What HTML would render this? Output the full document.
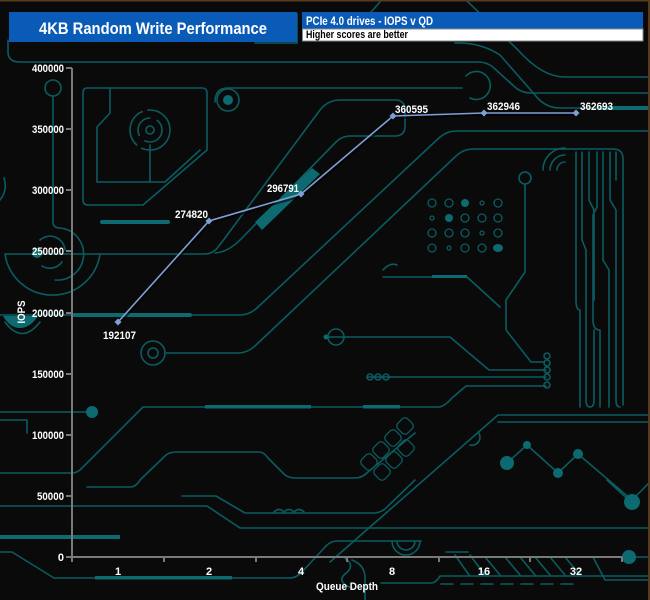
<!DOCTYPE html>
<html><head><meta charset="utf-8"><style>
html,body{margin:0;padding:0;background:#0a0a0a;}
svg{display:block;}
text{font-family:"Liberation Sans",Arial,sans-serif;font-weight:bold;}
</style></head><body>
<svg width="650" height="600" viewBox="0 0 650 600" xmlns="http://www.w3.org/2000/svg">
<rect width="650" height="600" fill="#0a0a0a"/>
<!-- circuit traces -->
<g fill="none" stroke="#0a5c61" stroke-width="1.6" stroke-linecap="round" stroke-linejoin="round">
<path d="M8,40 V52 Q8,62 20,62 H478 Q488,62 495,69 L516,88 Q522,93 532,93 H650"/>
<path d="M466,0 L518,50 Q542,77 565,77 H650"/>
<path d="M380,2 L362,22"/>
<path d="M455,43 Q480,42 500,55 L535,95 Q545,108 560,108 H650"/>
<path d="M255,43 H297 V14"/>
<path d="M215,102 Q215,88 228,88 H462"/>
<path d="M470,98 A14,14 0 1 0 466,76"/>
<circle cx="228" cy="100" r="11"/>
<!-- top-left polygon -->
<path d="M87,88 H202 Q207,88 207,93 V150 L143,205 H88 Q83,205 83,200 V93 Q83,88 87,88 Z"/>
<path d="M110,88 V113 L97,127 V182 H165 L200,150"/>
<circle cx="150" cy="130" r="20" stroke-dasharray="40 6 40 6"/>
<circle cx="150" cy="130" r="12" stroke-dasharray="24 8"/>
<circle cx="150" cy="130" r="4"/>
<path d="M150,145 V182"/>
<circle cx="53" cy="88" r="8"/>
<path d="M53,96 V222 Q53,228 60,228 A26,26 0 0 1 55,280"/>
<path d="M40,240 A15,15 0 0 1 65,250" />
<path d="M62,262 A15,15 0 0 1 42,266" />
<path d="M5,254 H100 A48,48 0 0 1 5,254"/>
<path d="M100,254 H205 Q213,254 219,246 L320,110 Q328,100 340,100 H395 Q405,100 405,110 V126 Q405,136 395,136 H350 Q342,136 336,142 L240,240 Q228,252 215,253"/>
<path d="M0,315 H240 Q250,315 258,307 L440,137 Q447,131 457,131 H650"/>
<path d="M165,353 H238 Q248,353 256,345 L455,157 Q463,149 473,149 H613 Q623,149 623,159 V405"/>
<path d="M5,322 Q22,345 40,322"/>
<path d="M0,200 Q8,190 4,178"/>
<circle cx="153" cy="353" r="12"/>
<circle cx="153" cy="353" r="5"/>
<!-- middle right -->
<path d="M326,337 H450 L489,370 H546"/>
<circle cx="336" cy="337" r="8"/>
<path d="M367,377 H546"/>
<circle cx="370" cy="377" r="3"/><circle cx="378" cy="377" r="3"/><circle cx="386" cy="377" r="3"/>
<circle cx="547" cy="356" r="3"/><circle cx="547" cy="363" r="3"/><circle cx="547" cy="370" r="3"/><circle cx="547" cy="377" r="3"/><circle cx="547" cy="385" r="3"/>
<circle cx="525" cy="178" r="6"/>
<path d="M525,184 V272 L506,300 V330 L531,362 H544"/>
<path d="M383,270 Q390,262 397,265 M383,277 H467 L500,307"/>
<path d="M557,170 A8,8 0 0 1 565,162 M550,170 A15,15 0 0 1 565,155 M543,170 A22,22 0 0 1 565,148"/>
<path d="M576,152 V300 Q576,310 580,310 V407"/>
<path d="M582,152 V240 L586,250 V400 Q586,407 590,407 Q594,407 594,400 V330"/>
<path d="M589,152 V200 L594,210 V300"/>
<path d="M597,152 V207 L593,215 V320 Q593,330 600,330 V407"/>
<path d="M603,152 V260 L609,270 V407"/>
<path d="M610,152 V200 L616,210 V400 Q616,407 620,407"/>
<path d="M616,152 V180"/>
<!-- lower -->
<path d="M143,407 H440 Q446,405 452,398 L466,386 H546"/>
<path d="M143,407 L80,470 Q76,473 72,473 H0"/>
<path d="M0,412 H92"/>
<path d="M0,420 H27 V433"/>
<path d="M87,487 H130 Q136,487 140,480 L166,455 Q170,452 176,452 H259 Q264,452 268,458 L285,475 Q289,478 296,478 H355 Q362,478 368,472 L415,433"/>
<path d="M498,415 H650 M498,422 H650 M498,415 L330,562"/>
<path d="M470,445 A8,8 0 0 0 478,432"/>
<path d="M507,463 L527,445 L558,473 L578,454 L632,500 L650,482"/>
<path d="M182,496 H216 L245,513 H373 Q382,513 388,506 L415,480"/>
<path d="M274,512 q5,-5 10,0 q5,-5 10,0 q5,-5 10,0"/>
<path d="M0,506 H207 L240,528 H650"/>
<path d="M0,552 H12 L54,578 H290 Q296,578 302,572 L326,546 Q331,541 337,541 H421"/>
<path d="M392,541 A14,14 0 0 0 420,541 M397,541 A9,9 0 0 0 415,541"/>
<path d="M345,558 Q356,566 345,574 Q336,582 352,588 M352,560 Q365,565 365,578 V600"/>
<path d="M446,552 H468 M455,555 L469,575 M470,555 L485,575 M485,557 L500,575 M505,557 L520,575 M520,557 L535,575 M535,557 L550,575 M550,557 L565,575 M565,557 L580,575"/>
<path d="M381,583 H431 Q436,583 440,576 H650"/>
<path d="M441,584 H580" stroke-dasharray="12 8"/>
<path d="M593,557 L605,580 H650"/>
<path d="M607,480 L632,503"/>
<path d="M629,557 H650"/>
</g>
<g fill="#0c6a70" stroke="none">
<rect x="100" y="220" width="70" height="4" rx="2"/>
<rect x="72" y="313" width="120" height="4" rx="2"/>
<rect x="205" y="405" width="106" height="3.5"/>
<rect x="363" y="405" width="37" height="3.5"/>
<rect x="432" y="275" width="35" height="3"/>
<rect x="600" y="106" width="50" height="4"/>
<rect x="0" y="535" width="120" height="4"/>
<rect x="95" y="576" width="137" height="3.5"/>
<path d="M255,222 L312,168 L320,174 L262,230 Z"/>
<circle cx="92" cy="412" r="6"/>
<circle cx="37" cy="253" r="5"/>
<circle cx="228" cy="100" r="5"/>
<path d="M3,316 H38 Q30,328 20,328 Q10,328 3,316 Z"/>
<circle cx="507" cy="463" r="7"/>
<circle cx="527" cy="445" r="4"/>
<circle cx="558" cy="473" r="5"/>
<circle cx="578" cy="454" r="5"/>
<circle cx="632" cy="502" r="8"/>
<circle cx="629" cy="557" r="7"/>
<circle cx="465" cy="203" r="4"/>
<circle cx="449" cy="218" r="4"/>
<ellipse cx="498" cy="248" rx="5" ry="4"/>
<circle cx="326" cy="337" r="2.5"/>
</g>
<g fill="none" stroke="#0a5c61" stroke-width="1.3">
<circle cx="432" cy="203" r="4"/><circle cx="449" cy="203" r="4"/><circle cx="482" cy="203" r="2"/><circle cx="498" cy="203" r="4"/>
<circle cx="432" cy="218" r="2"/><circle cx="465" cy="218" r="4"/><circle cx="482" cy="218" r="4"/><circle cx="498" cy="218" r="4"/>
<circle cx="432" cy="233" r="4"/><circle cx="449" cy="233" r="4"/><circle cx="465" cy="233" r="4"/><circle cx="482" cy="233" r="2"/><circle cx="498" cy="233" r="4"/>
<circle cx="432" cy="248" r="4"/><circle cx="449" cy="248" r="2"/><circle cx="465" cy="248" r="4"/><circle cx="482" cy="248" r="4"/>
<rect x="362" y="455" width="14" height="14" rx="4" transform="rotate(45 369 462)"/>
<rect x="374" y="443" width="14" height="14" rx="4" transform="rotate(45 381 450)"/>
<rect x="386" y="431" width="14" height="14" rx="4" transform="rotate(45 393 438)"/>
<rect x="398" y="419" width="14" height="14" rx="4" transform="rotate(45 405 426)"/>
<rect x="375" y="465" width="14" height="14" rx="4" transform="rotate(45 382 472)"/>
<rect x="387" y="453" width="14" height="14" rx="4" transform="rotate(45 394 460)"/>
<rect x="399" y="441" width="14" height="14" rx="4" transform="rotate(45 406 448)"/>
</g>
<!-- frame -->
<rect x="0" y="0" width="650" height="1.5" fill="#5a3a1c"/>
<rect x="648" y="0" width="2" height="600" fill="#5a3a1c"/>
<!-- title -->
<rect x="9" y="12" width="288" height="30" fill="#0a5bb8"/>
<text x="153" y="34" fill="#fff" font-size="17" text-anchor="middle" textLength="228" lengthAdjust="spacingAndGlyphs">4KB Random Write Performance</text>
<rect x="302" y="12" width="341" height="17" fill="#0a5bb8"/>
<rect x="302.5" y="29" width="340.5" height="12" fill="#fff" stroke="#888" stroke-width="1"/>
<text x="306" y="25" fill="#fff" font-size="11.5" textLength="127" lengthAdjust="spacingAndGlyphs">PCIe 4.0 drives - IOPS v QD</text>
<text x="306" y="38" fill="#000" font-size="11" textLength="102" lengthAdjust="spacingAndGlyphs">Higher scores are better</text>
<!-- axes -->
<g stroke="#7a7a7a" stroke-width="2" fill="none">
<path d="M72,68 V562"/>
<path d="M66,557 H622"/>
<path d="M66,68 H72 M66,129 H72 M66,190 H72 M66,251 H72 M66,313 H72 M66,374 H72 M66,435 H72 M66,496 H72"/>
<path d="M164,557 V562 M256,557 V562 M347,557 V562 M439,557 V562 M530,557 V562 M622,557 V562"/>
</g>
<g fill="#fff" font-size="11" text-anchor="end">
<text x="64" y="72" textLength="32" lengthAdjust="spacingAndGlyphs">400000</text>
<text x="64" y="133" textLength="32" lengthAdjust="spacingAndGlyphs">350000</text>
<text x="64" y="194" textLength="32" lengthAdjust="spacingAndGlyphs">300000</text>
<text x="64" y="255" textLength="32" lengthAdjust="spacingAndGlyphs">250000</text>
<text x="64" y="317" textLength="32" lengthAdjust="spacingAndGlyphs">200000</text>
<text x="64" y="378" textLength="32" lengthAdjust="spacingAndGlyphs">150000</text>
<text x="64" y="439" textLength="32" lengthAdjust="spacingAndGlyphs">100000</text>
<text x="64" y="500" textLength="27" lengthAdjust="spacingAndGlyphs">50000</text>
<text x="64" y="561">0</text>
</g>
<g fill="#fff" font-size="11" text-anchor="middle">
<text x="118" y="575">1</text>
<text x="209" y="575">2</text>
<text x="301" y="575">4</text>
<text x="392" y="575">8</text>
<text x="484" y="575">16</text>
<text x="576" y="575">32</text>
<text x="347" y="590" textLength="62" lengthAdjust="spacingAndGlyphs">Queue Depth</text>
<text transform="translate(25,312) rotate(-90)" textLength="23" lengthAdjust="spacingAndGlyphs">IOPS</text>
</g>
<!-- data -->
<polyline points="119,324 210,223 302,196 394,118 485,115 577,115" fill="none" stroke="#000" stroke-opacity="0.6" stroke-width="2"/>
<polyline points="118,322 209,221 301,194 393,116 484,113 576,113" fill="none" stroke="#7f9ed6" stroke-width="1.6"/>
<g fill="#7f9ed6">
<path d="M118,318.5 L121.5,322 L118,325.5 L114.5,322 Z"/>
<path d="M209,217.5 L212.5,221 L209,224.5 L205.5,221 Z"/>
<path d="M301,190.5 L304.5,194 L301,197.5 L297.5,194 Z"/>
<path d="M393,112.5 L396.5,116 L393,119.5 L389.5,116 Z"/>
<path d="M484,109.5 L487.5,113 L484,116.5 L480.5,113 Z"/>
<path d="M576,109.5 L579.5,113 L576,116.5 L572.5,113 Z"/>
</g>
<g fill="#fff" font-size="11">
<text x="103" y="339" textLength="33" lengthAdjust="spacingAndGlyphs">192107</text>
<text x="175" y="218" textLength="33" lengthAdjust="spacingAndGlyphs">274820</text>
<text x="267" y="192" textLength="32" lengthAdjust="spacingAndGlyphs">296791</text>
<text x="395" y="113" textLength="33" lengthAdjust="spacingAndGlyphs">360595</text>
<text x="487" y="110" textLength="33" lengthAdjust="spacingAndGlyphs">362946</text>
<text x="580" y="110" textLength="33" lengthAdjust="spacingAndGlyphs">362693</text>
</g>
</svg>
</body></html>
